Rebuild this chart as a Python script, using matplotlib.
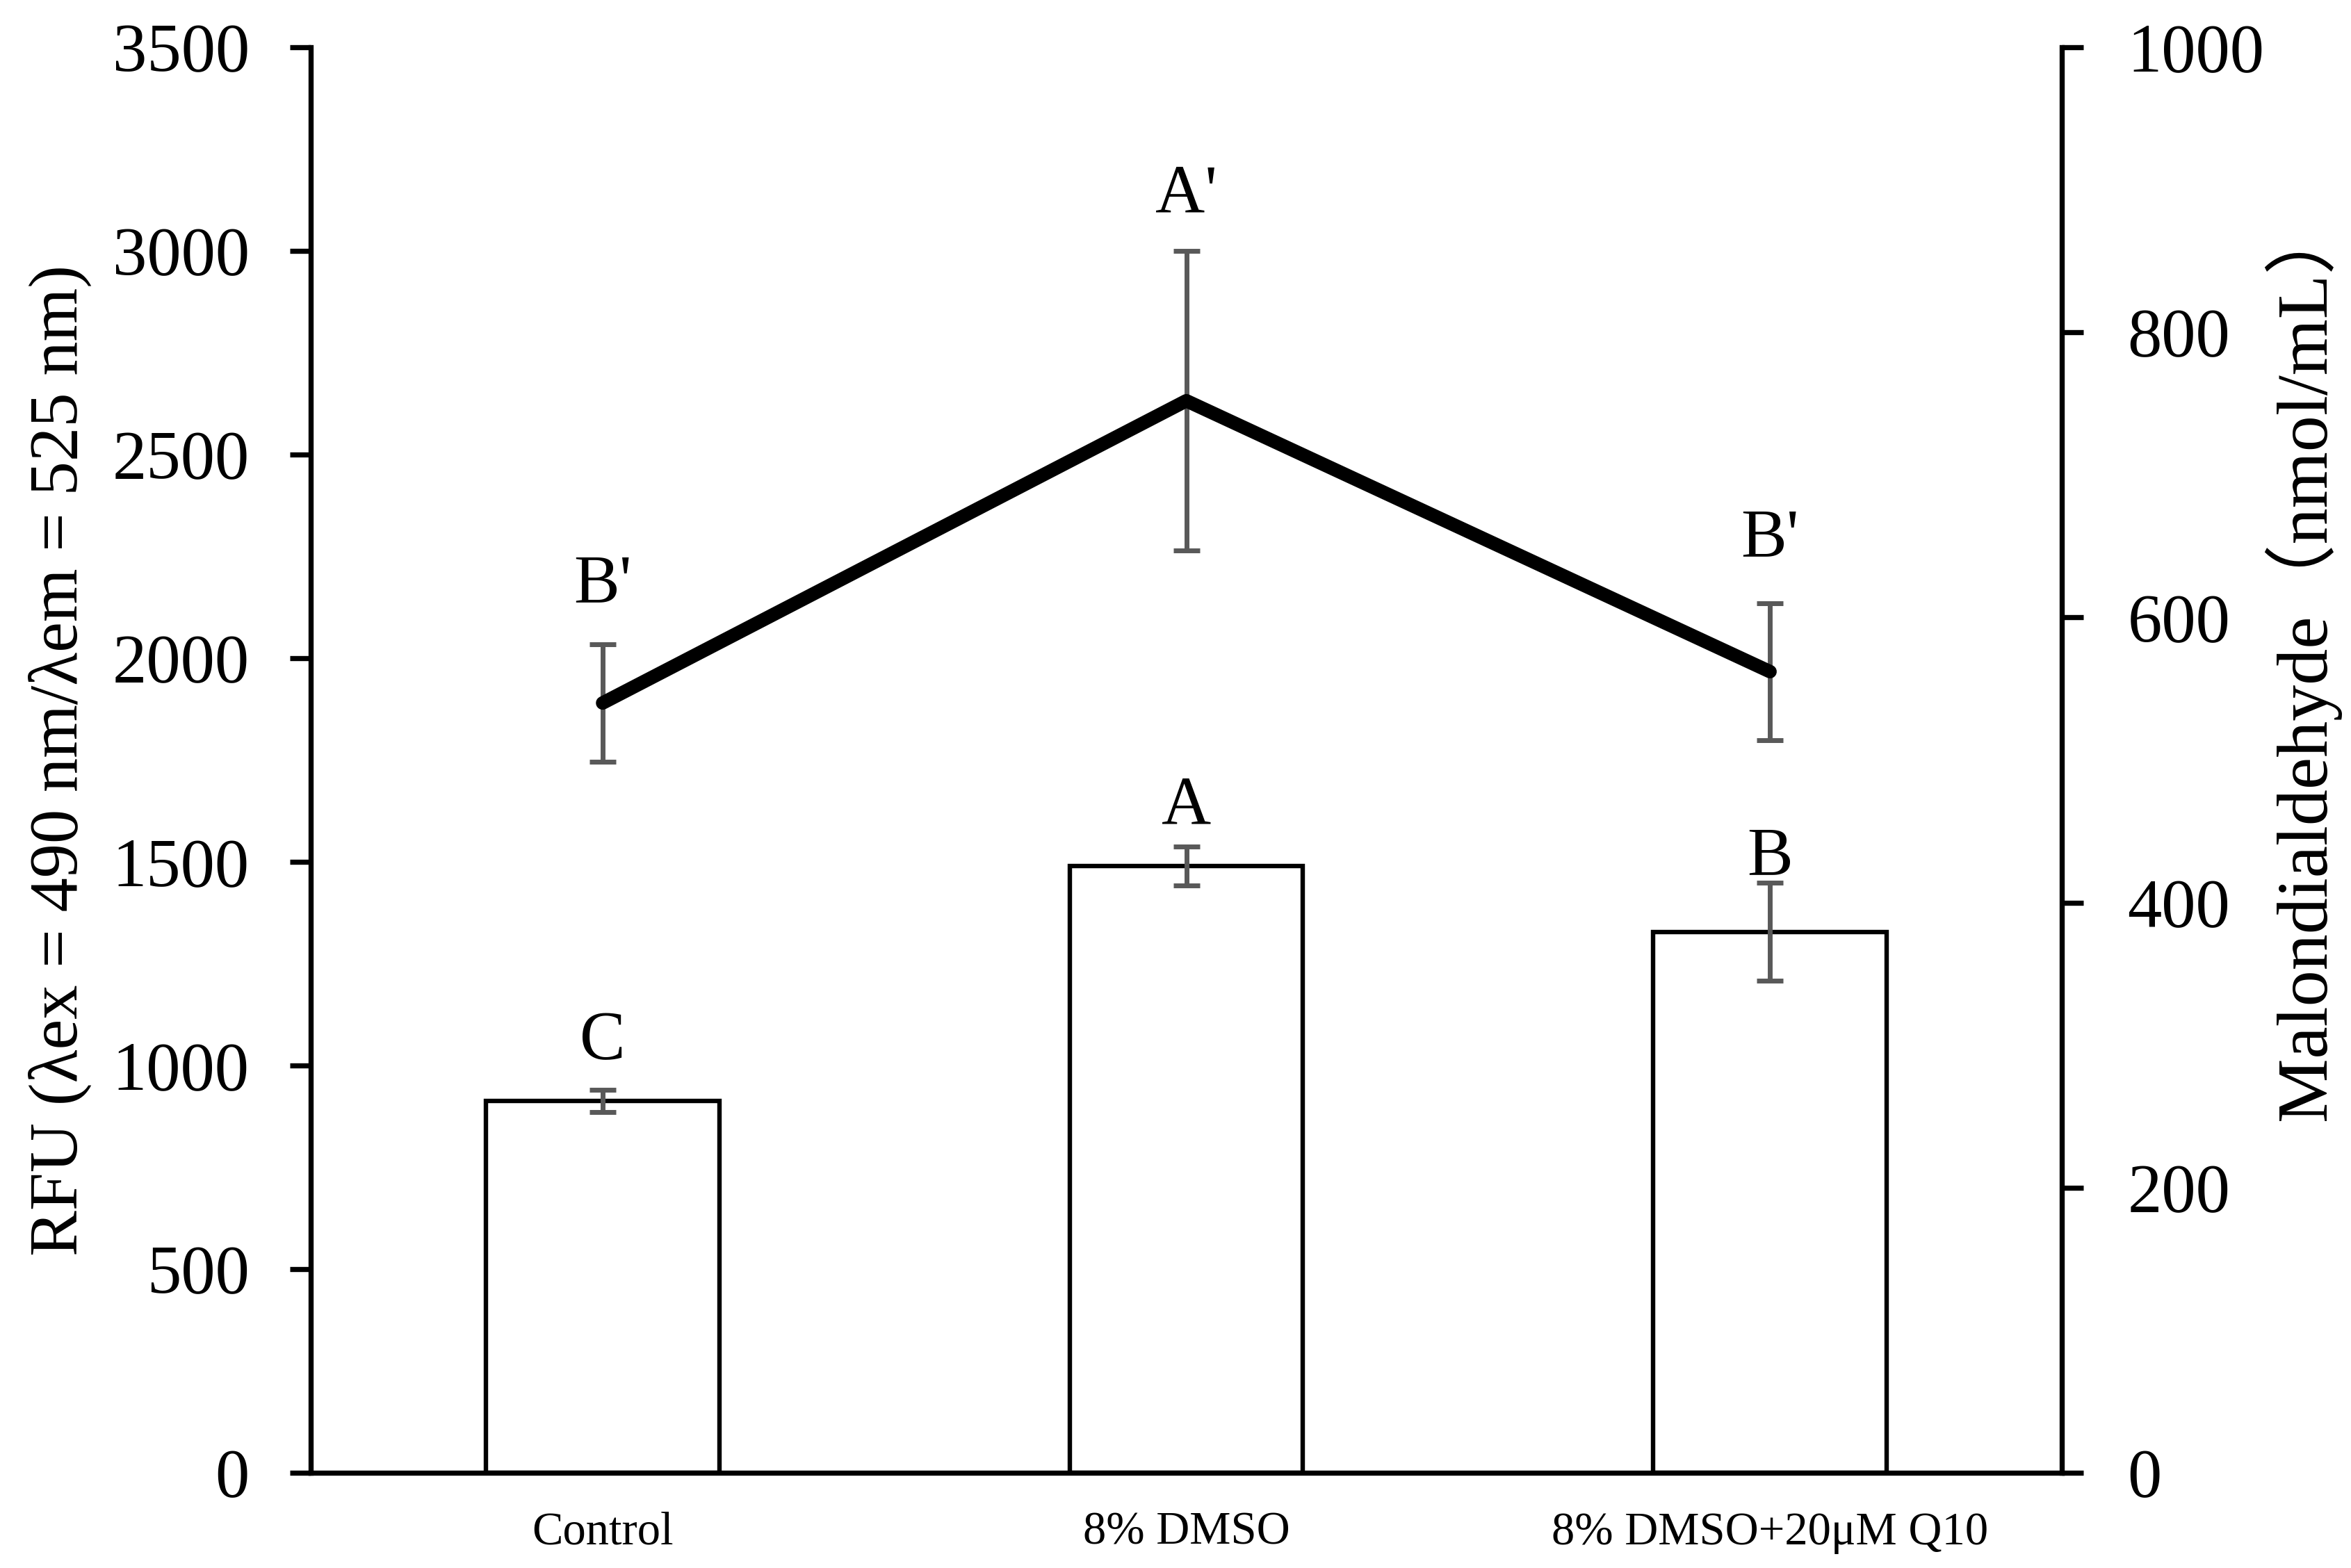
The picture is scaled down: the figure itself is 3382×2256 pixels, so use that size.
import matplotlib
matplotlib.use("Agg")
import matplotlib.pyplot as plt
import numpy as np

# ---- data ----
categories = ["Control", "8% DMSO", "8% DMSO+20\u03bcM Q10"]
rfu_values = [913, 1490, 1328]
rfu_errors = [27, 48, 120]
rfu_letters = ["C", "A", "B"]
rfu_letter_y = [1017, 1593, 1469]

mda_values = [540, 752, 562]
mda_errors = [41, 105, 48]
mda_letters = ["B'", "A'", "B'"]
mda_letter_y = [611, 884, 643]

left_ticks = [0, 500, 1000, 1500, 2000, 2500, 3000, 3500]
right_ticks = [0, 200, 400, 600, 800, 1000]

plt.rcParams['font.family'] = ['Liberation Serif', 'DejaVu Serif']

fig = plt.figure(figsize=(33.82, 22.56), dpi=100)
ax = fig.add_axes([0.1322, 0.0607, 0.877 - 0.1322, 0.9699 - 0.0607])
ax2 = ax.twinx()

x = np.arange(len(categories))
err_color = '#595959'

ax.bar(x, rfu_values, width=0.4, color='white', edgecolor='black',
       linewidth=4.6, zorder=2)
ax.errorbar(x, rfu_values, yerr=rfu_errors, fmt='none', ecolor=err_color,
            elinewidth=5, capsize=14, capthick=5, zorder=3)

ax2.errorbar(x, mda_values, yerr=mda_errors, fmt='none', ecolor=err_color,
             elinewidth=5, capsize=14, capthick=5, zorder=2)
ax2.plot(x, mda_values, color='black', linewidth=14,
         solid_capstyle='round', solid_joinstyle='round', zorder=3)

ax.set_xlim(-0.5, 2.5)
ax.set_ylim(0, 3500)
ax2.set_ylim(0, 1000)
ax.set_yticks(left_ticks)
ax2.set_yticks(right_ticks)
ax.set_xticks(x)
ax.set_xticklabels(categories, fontsize=48)

for a in (ax, ax2):
    a.spines['top'].set_visible(False)
    for s in a.spines.values():
        s.set_linewidth(5.3)
ax.spines['right'].set_visible(False)
ax2.spines['left'].set_visible(False)
ax2.spines['bottom'].set_visible(False)

ax.tick_params(axis='x', length=0, pad=40)
ax.tick_params(axis='y', direction='out', length=21.6, width=5.3,
               labelsize=71, pad=42)
ax2.tick_params(axis='y', direction='out', length=22, width=5.3,
                labelsize=71, pad=46)

ax.set_ylabel("RFU (\u03bbex = 490 nm/\u03bbem = 525 nm)", fontsize=71)
ax.yaxis.set_label_coords(-0.1433, 0.5)
ax.yaxis.label.set_verticalalignment('center')
ax.yaxis.label.set_horizontalalignment('center')

ax2.set_ylabel("Malondialdehyde\uff08nmol/mL\uff09", fontsize=75,
               family=['Liberation Serif', 'Noto Sans CJK SC'])
ax2.yaxis.set_label_coords(1.137, 0.57)
ax2.yaxis.label.set_verticalalignment('center')
ax2.yaxis.label.set_horizontalalignment('center')

for xi, t, yy in zip(x, rfu_letters, rfu_letter_y):
    ax.text(xi, yy, t, ha='center', va='baseline', fontsize=71)
for xi, t, yy in zip(x, mda_letters, mda_letter_y):
    ax2.text(xi, yy, t, ha='center', va='baseline', fontsize=71)

fig.savefig("out.png", dpi=100)
